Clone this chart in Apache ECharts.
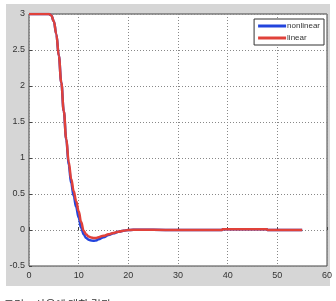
<!DOCTYPE html>
<html><head><meta charset="utf-8">
<script src="https://cdn.jsdelivr.net/npm/echarts@6/dist/echarts.min.js"></script>
<style>html,body{margin:0;padding:0;background:#fff}#c{width:336px;height:301px}</style>
</head><body><div id="c"></div>
<script>
const xs = [0,1,2,3,4,4.5,5,5.5,6,6.5,7,7.5,8,8.5,9,9.5,10,10.5,11,11.5,12,12.5,13,13.5,14,15,16,17,18,19,20,22,25,30,35,38.9,39,45,47.9,48,55];
const nonlinear = [3,3,3,3,3,2.98,2.9,2.72,2.42,2.05,1.65,1.26,0.9,0.65,0.47,0.32,0.17,0.03,-0.06,-0.11,-0.135,-0.145,-0.15,-0.145,-0.13,-0.1,-0.07,-0.045,-0.025,-0.01,0,0.005,0.003,0,0,0,0.01,0.01,0.01,0,0];
const linear = [3,3,3,3,3,2.98,2.9,2.72,2.42,2.05,1.65,1.27,0.94,0.71,0.54,0.4,0.26,0.11,-0.01,-0.06,-0.09,-0.105,-0.11,-0.11,-0.1,-0.08,-0.06,-0.04,-0.025,-0.01,0,0.005,0.003,0,0,0,0.01,0.01,0.01,0,0];
const seriesNames = ['nonlinear','linear'];
const caption = '그림 5 사용에 대한 결과';
const pair = (a) => xs.map((x,i)=>[x,a[i]]);
const chart = echarts.init(document.getElementById('c'));
const axisText = {color:'#333', fontSize:9, fontFamily:'Liberation Sans'};
const split = {show:true, lineStyle:{color:'#888', type:[1,2], width:1}};
chart.setOption({
  animation:false,
  graphic:[
    {type:'rect', shape:{x:6,y:4,width:324,height:282}, style:{fill:'#d6d6d6'}, z:-10},
    {type:'text', x:4, y:299, style:{text:caption, fontSize:11, fill:'#333', fontFamily:'Noto Sans CJK KR', verticalAlign:'top'}}
  ],
  grid:{left:29, right:9, top:14, bottom:35, show:true, backgroundColor:'#fff', borderColor:'#444', borderWidth:1},
  legend:{
    orient:'vertical', right:12, top:19, data:seriesNames,
    backgroundColor:'#fff', borderColor:'#333', borderWidth:1, padding:[3,4,3,4],
    itemWidth:28, itemHeight:3, itemGap:4, icon:'rect',
    textStyle:{fontSize:8, color:'#333', fontFamily:'Liberation Sans', padding:[0,0,0,-4]}
  },
  xAxis:{type:'value', min:0, max:60, interval:10,
    axisLine:{show:false}, axisTick:{show:true, inside:true, length:3, lineStyle:{color:'#444'}},
    axisLabel:Object.assign({margin:5}, axisText), splitLine:split},
  yAxis:{type:'value', min:-0.5, max:3, interval:0.5,
    axisLine:{show:false}, axisTick:{show:true, inside:true, length:3, lineStyle:{color:'#444'}},
    axisLabel:Object.assign({margin:4}, axisText), splitLine:split},
  series:[
    {name:seriesNames[0], type:'line', data:pair(nonlinear), smooth:0.4, smoothMonotone:'x', showSymbol:false, lineStyle:{color:'#2244dd', width:2.5}, itemStyle:{color:'#2244dd'}},
    {name:seriesNames[1], type:'line', data:pair(linear), smooth:0.4, smoothMonotone:'x', showSymbol:false, lineStyle:{color:'#e0413a', width:2.5}, itemStyle:{color:'#e0413a'}}
  ]
});
</script></body></html>
